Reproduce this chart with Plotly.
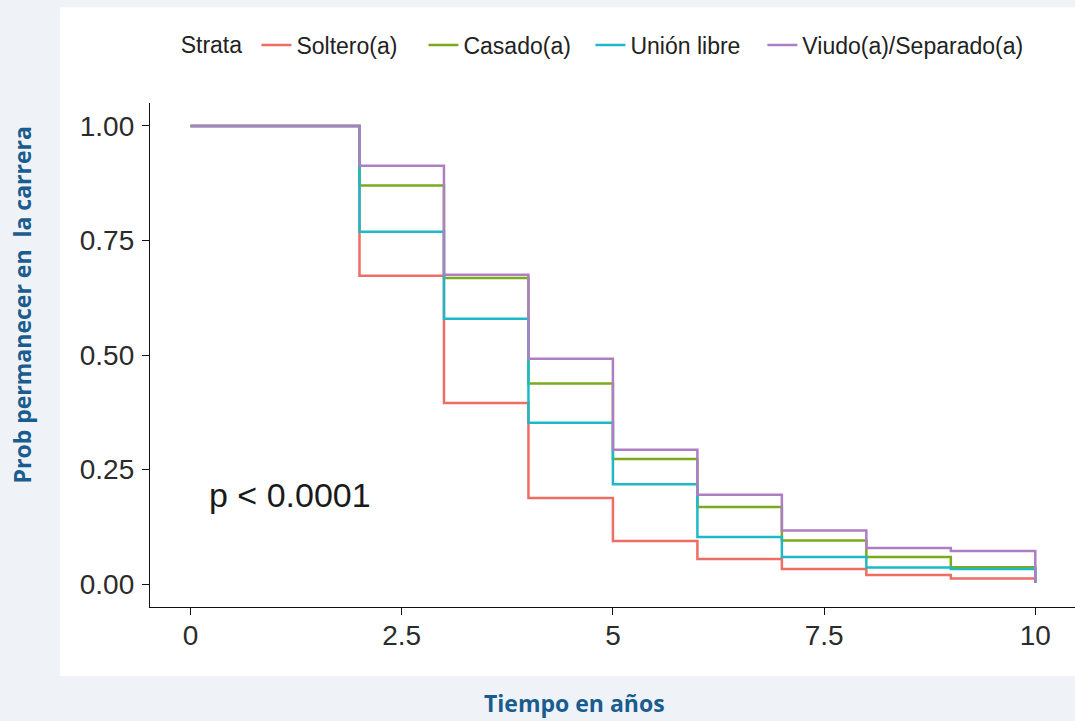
import plotly.graph_objects as go

# Kaplan-Meier style survival steps
tiempo = [0, 2, 3, 4, 5, 6, 7, 8, 9, 10]
soltero = [1.0, 0.673, 0.395, 0.188, 0.094, 0.055, 0.033, 0.020, 0.012, 0.003]
casado = [1.0, 0.870, 0.668, 0.438, 0.273, 0.168, 0.095, 0.059, 0.037, 0.003]
union_libre = [1.0, 0.769, 0.579, 0.352, 0.218, 0.103, 0.059, 0.036, 0.033, 0.003]
viudo = [1.0, 0.913, 0.675, 0.492, 0.293, 0.195, 0.117, 0.079, 0.072, 0.003]

grupos = ["Soltero(a)", "Casado(a)", "Unión libre", "Viudo(a)/Separado(a)"]
colores = ["#EE6E64", "#7BAA1E", "#1EB9C8", "#AE7EC4"]
leyendas = ["legend", "legend", "legend", "legend2"]
x_ticks = [0, 2.5, 5, 7.5, 10]
x_tick_text = ["0", "2.5", "5", "7.5", "10"]
y_ticks = [0, 0.25, 0.5, 0.75, 1.0]
y_tick_text = ["0.00", "0.25", "0.50", "0.75", "1.00"]

azul = "#1b5c8f"
fuente = "Liberation Sans, Arial, sans-serif"

fig = go.Figure()
for nombre, serie, col, leg in zip(grupos, [soltero, casado, union_libre, viudo], colores, leyendas):
    fig.add_scatter(x=tiempo, y=serie, mode="lines", name=nombre, legend=leg,
                    line=dict(color=col, width=2.5, shape="hv"))

fig.update_layout(
    width=1075, height=721,
    margin=dict(l=150, r=0, t=103, b=114),
    paper_bgcolor="#eff3f8",
    plot_bgcolor="rgba(0,0,0,0)",
    font=dict(family=fuente, color="#2b2b2b"),
    showlegend=True,
    legend=dict(orientation="h", x=0.031, xanchor="left", y=1.115, yanchor="middle",
                title=dict(text="Strata ", font=dict(size=23, color="#222")),
                entrywidth=122, entrywidthmode="pixels",
                font=dict(size=23, color="#222"), bgcolor="rgba(0,0,0,0)"),
    legend2=dict(orientation="h", x=0.662, xanchor="left", y=1.115, yanchor="middle",
                 font=dict(size=23, color="#222"), bgcolor="rgba(0,0,0,0)"),
    shapes=[dict(type="rect", xref="paper", yref="paper", x0=-0.0973, x1=1.0,
                 y0=-0.137, y1=1.19, fillcolor="white", line=dict(width=0), layer="below")],
)

fig.update_xaxes(range=[-0.48, 10.47], tickvals=x_ticks, ticktext=x_tick_text,
                 showline=True, linecolor="#111", linewidth=1.3, showgrid=False, zeroline=False,
                 ticks="outside", ticklen=7, tickcolor="#111", tickwidth=1.3,
                 tickfont=dict(size=28, color="#2b2b2b"), ticklabelstandoff=-4)
fig.update_yaxes(range=[-0.05, 1.05], tickvals=y_ticks, ticktext=y_tick_text,
                 showline=True, linecolor="#111", linewidth=1.3, showgrid=False, zeroline=False,
                 ticks="outside", ticklen=7, tickcolor="#111", tickwidth=1.3,
                 tickfont=dict(size=28, color="#2b2b2b"), ticklabelstandoff=2)

fig.add_annotation(x=0.19, y=0.194, xref="x", yref="y", text="p &lt; 0.0001",
                   showarrow=False, xanchor="left", yanchor="middle",
                   font=dict(size=34, color="#1a1a1a"))

fig.add_annotation(x=0.459, y=-0.19, xref="paper", yref="paper", text="<b>Tiempo en años</b>",
                   showarrow=False, xanchor="center", yanchor="middle",
                   font=dict(family="Open Sans", size=23, color=azul))
fig.add_annotation(x=-0.138, y=0.599, xref="paper", yref="paper",
                   text="<b>Prob permanecer en\u00a0 la carrera</b>", textangle=-90,
                   showarrow=False, xanchor="center", yanchor="middle",
                   font=dict(family="Open Sans", size=23, color=azul))

fig.write_html("out.html", config={"displayModeBar": False},
               post_script="document.body.style.margin='0';")
